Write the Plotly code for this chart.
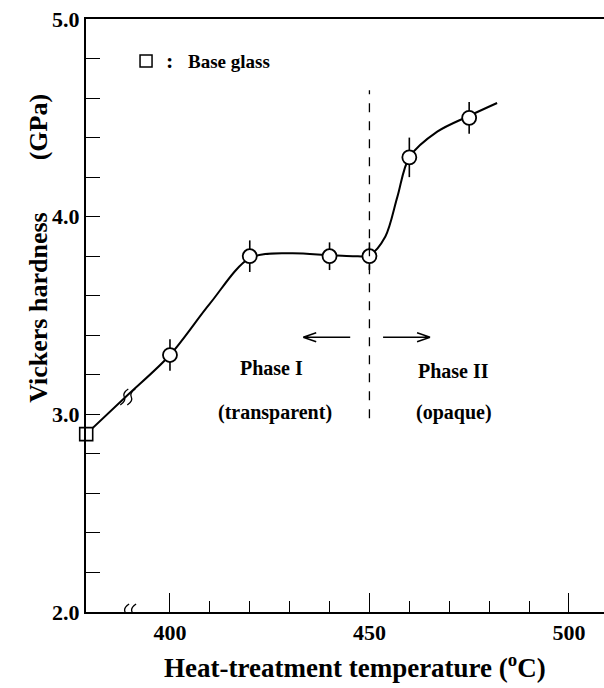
import plotly.graph_objects as go

# Data
temps = [400, 420, 440, 450, 460, 475]
hardness = [3.3, 3.8, 3.8, 3.8, 4.3, 4.5]
err = [0.08, 0.08, 0.07, 0.07, 0.1, 0.08]

base_x = [379]
base_y = [2.9]

# hand-drawn guide curve
curve_x = [379, 389, 400, 410, 420, 430, 440, 446, 450, 454, 457, 460, 467, 475, 482]
curve_y = [2.9, 3.09, 3.3, 3.56, 3.79, 3.815, 3.805, 3.8, 3.805, 3.9, 4.1, 4.3, 4.43, 4.51, 4.575]

x_major = [400, 450, 500]
x_minor = [410, 420, 430, 440, 460, 470, 480, 490]
y_major = [2.0, 3.0, 4.0, 5.0]

FONT = "Liberation Serif"
NB = "\u00a0"

fig = go.Figure()

fig.add_trace(go.Scatter(x=curve_x, y=curve_y, mode="lines",
                         line=dict(color="black", width=2, shape="spline", smoothing=0.9),
                         hoverinfo="skip", showlegend=False))

fig.add_trace(go.Scatter(x=temps, y=hardness, mode="markers",
                         marker=dict(symbol="circle", size=14, color="white",
                                     line=dict(color="black", width=1.8)),
                         error_y=dict(type="data", array=err, width=0, thickness=1.6, color="black"),
                         showlegend=False, cliponaxis=False))

fig.add_trace(go.Scatter(x=base_x, y=base_y, mode="markers",
                         marker=dict(symbol="square", size=13, color="white",
                                     line=dict(color="black", width=1.6)),
                         showlegend=False, cliponaxis=False))

# legend square
fig.add_trace(go.Scatter(x=[394.0], y=[4.787], mode="markers",
                         marker=dict(symbol="square", size=12, color="white",
                                     line=dict(color="black", width=1.5)),
                         showlegend=False, cliponaxis=False))

# vertical dashed line at 450
fig.add_shape(type="line", x0=450, x1=450, y0=2.98, y1=4.64, xref="x", yref="y",
              line=dict(color="black", width=1.3, dash="dash"))

# arrows (open chevron heads), anchored at head
left_arrow = "M 0,0 L 47,0 M 0,0 L 13,4.5 M 0,0 L 13,-4.5"
right_arrow = "M 0,0 L -47,0 M 0,0 L -13,4.5 M 0,0 L -13,-4.5"
fig.add_shape(type="path", xref="x", yref="y", xsizemode="pixel", ysizemode="pixel",
              xanchor=433.4, yanchor=3.39, path=left_arrow, line=dict(color="black", width=1.4))
fig.add_shape(type="path", xref="x", yref="y", xsizemode="pixel", ysizemode="pixel",
              xanchor=465.2, yanchor=3.39, path=right_arrow, line=dict(color="black", width=1.4))

tf = dict(family=FONT, size=20, color="black")
fig.add_annotation(x=425.4, y=3.234, text="<b>Phase I</b>", showarrow=False, font=tf)
fig.add_annotation(x=426.3, y=3.01, text="<b>(transparent)</b>", showarrow=False, font=tf)
fig.add_annotation(x=471.0, y=3.22, text="<b>Phase II</b>", showarrow=False, font=tf)
fig.add_annotation(x=471.2, y=3.01, text="<b>(opaque)</b>", showarrow=False, font=tf)
fig.add_annotation(x=399.8, y=4.79, text="<b>:</b>", showarrow=False,
                   font=dict(family=FONT, size=22, color="black"))
fig.add_annotation(x=404.0, y=4.787, text="<b>Base glass</b>", showarrow=False,
                   font=dict(family=FONT, size=19, color="black"), xanchor="left")

# axis titles
fig.add_annotation(xref="paper", yref="y", x=-0.1236, y=3.84,
                   text="<b>Vickers hardness" + NB * 8 + "(GPa)</b>",
                   textangle=-90, showarrow=False, font=dict(family=FONT, size=26, color="black"))
fig.add_annotation(xref="x", yref="paper", x=446.4, y=-0.091, yanchor="middle",
                   text="<b>Heat-treatment temperature (<sup>o</sup>C)</b>", showarrow=False,
                   font=dict(family=FONT, size=27, color="black"))

# axis break marks (decorations)
brk = "M -7,-8 Q -1,-4 -3,0 Q -5,4 1,8 M 0,-8 Q 6,-4 4,0 Q 2,4 8,8"
fig.add_shape(type="rect", xref="x", yref="y", xsizemode="pixel", ysizemode="pixel",
              xanchor=389.5, yanchor=2.0, x0=-5, x1=6, y0=-1.5, y1=1.5,
              fillcolor="white", line=dict(width=0))
fig.add_shape(type="path", xref="x", yref="y", xsizemode="pixel", ysizemode="pixel",
              xanchor=389.5, yanchor=2.0, path=brk, line=dict(color="black", width=1.3))
fig.add_shape(type="path", xref="x", yref="y", xsizemode="pixel", ysizemode="pixel",
              xanchor=389.3, yanchor=3.088, path=brk, line=dict(color="black", width=1.3))

fig.update_xaxes(range=[378.95, 508.8], showline=True, linecolor="black", linewidth=2, mirror=True,
                 showgrid=False, zeroline=False,
                 tickmode="array", tickvals=x_major, ticktext=["<b>%d</b>" % v for v in x_major],
                 ticks="inside", ticklen=19, tickwidth=1.4, tickcolor="black",
                 tickfont=dict(family=FONT, size=22, color="black"),
                 minor=dict(tickmode="array", tickvals=x_minor, ticks="inside", ticklen=11,
                            tickwidth=1.4, tickcolor="black", showgrid=False))
fig.update_yaxes(range=[2.0, 5.0], showline=True, linecolor="black", linewidth=2, mirror=False,
                 showgrid=False, zeroline=False,
                 tickmode="array", tickvals=y_major, ticktext=["<b>%.1f</b>" % v for v in y_major],
                 ticks="inside", ticklen=14, tickwidth=1.4, tickcolor="black",
                 tickfont=dict(family=FONT, size=22, color="black"),
                 minor=dict(dtick=0.2, tick0=2.0, ticks="inside", ticklen=14,
                            tickwidth=1.4, tickcolor="black", showgrid=False))

fig.update_layout(width=604, height=688, margin=dict(l=86, r=0, t=19, b=76),
                  plot_bgcolor="white", paper_bgcolor="white", showlegend=False)

fig.write_html("out.html")
